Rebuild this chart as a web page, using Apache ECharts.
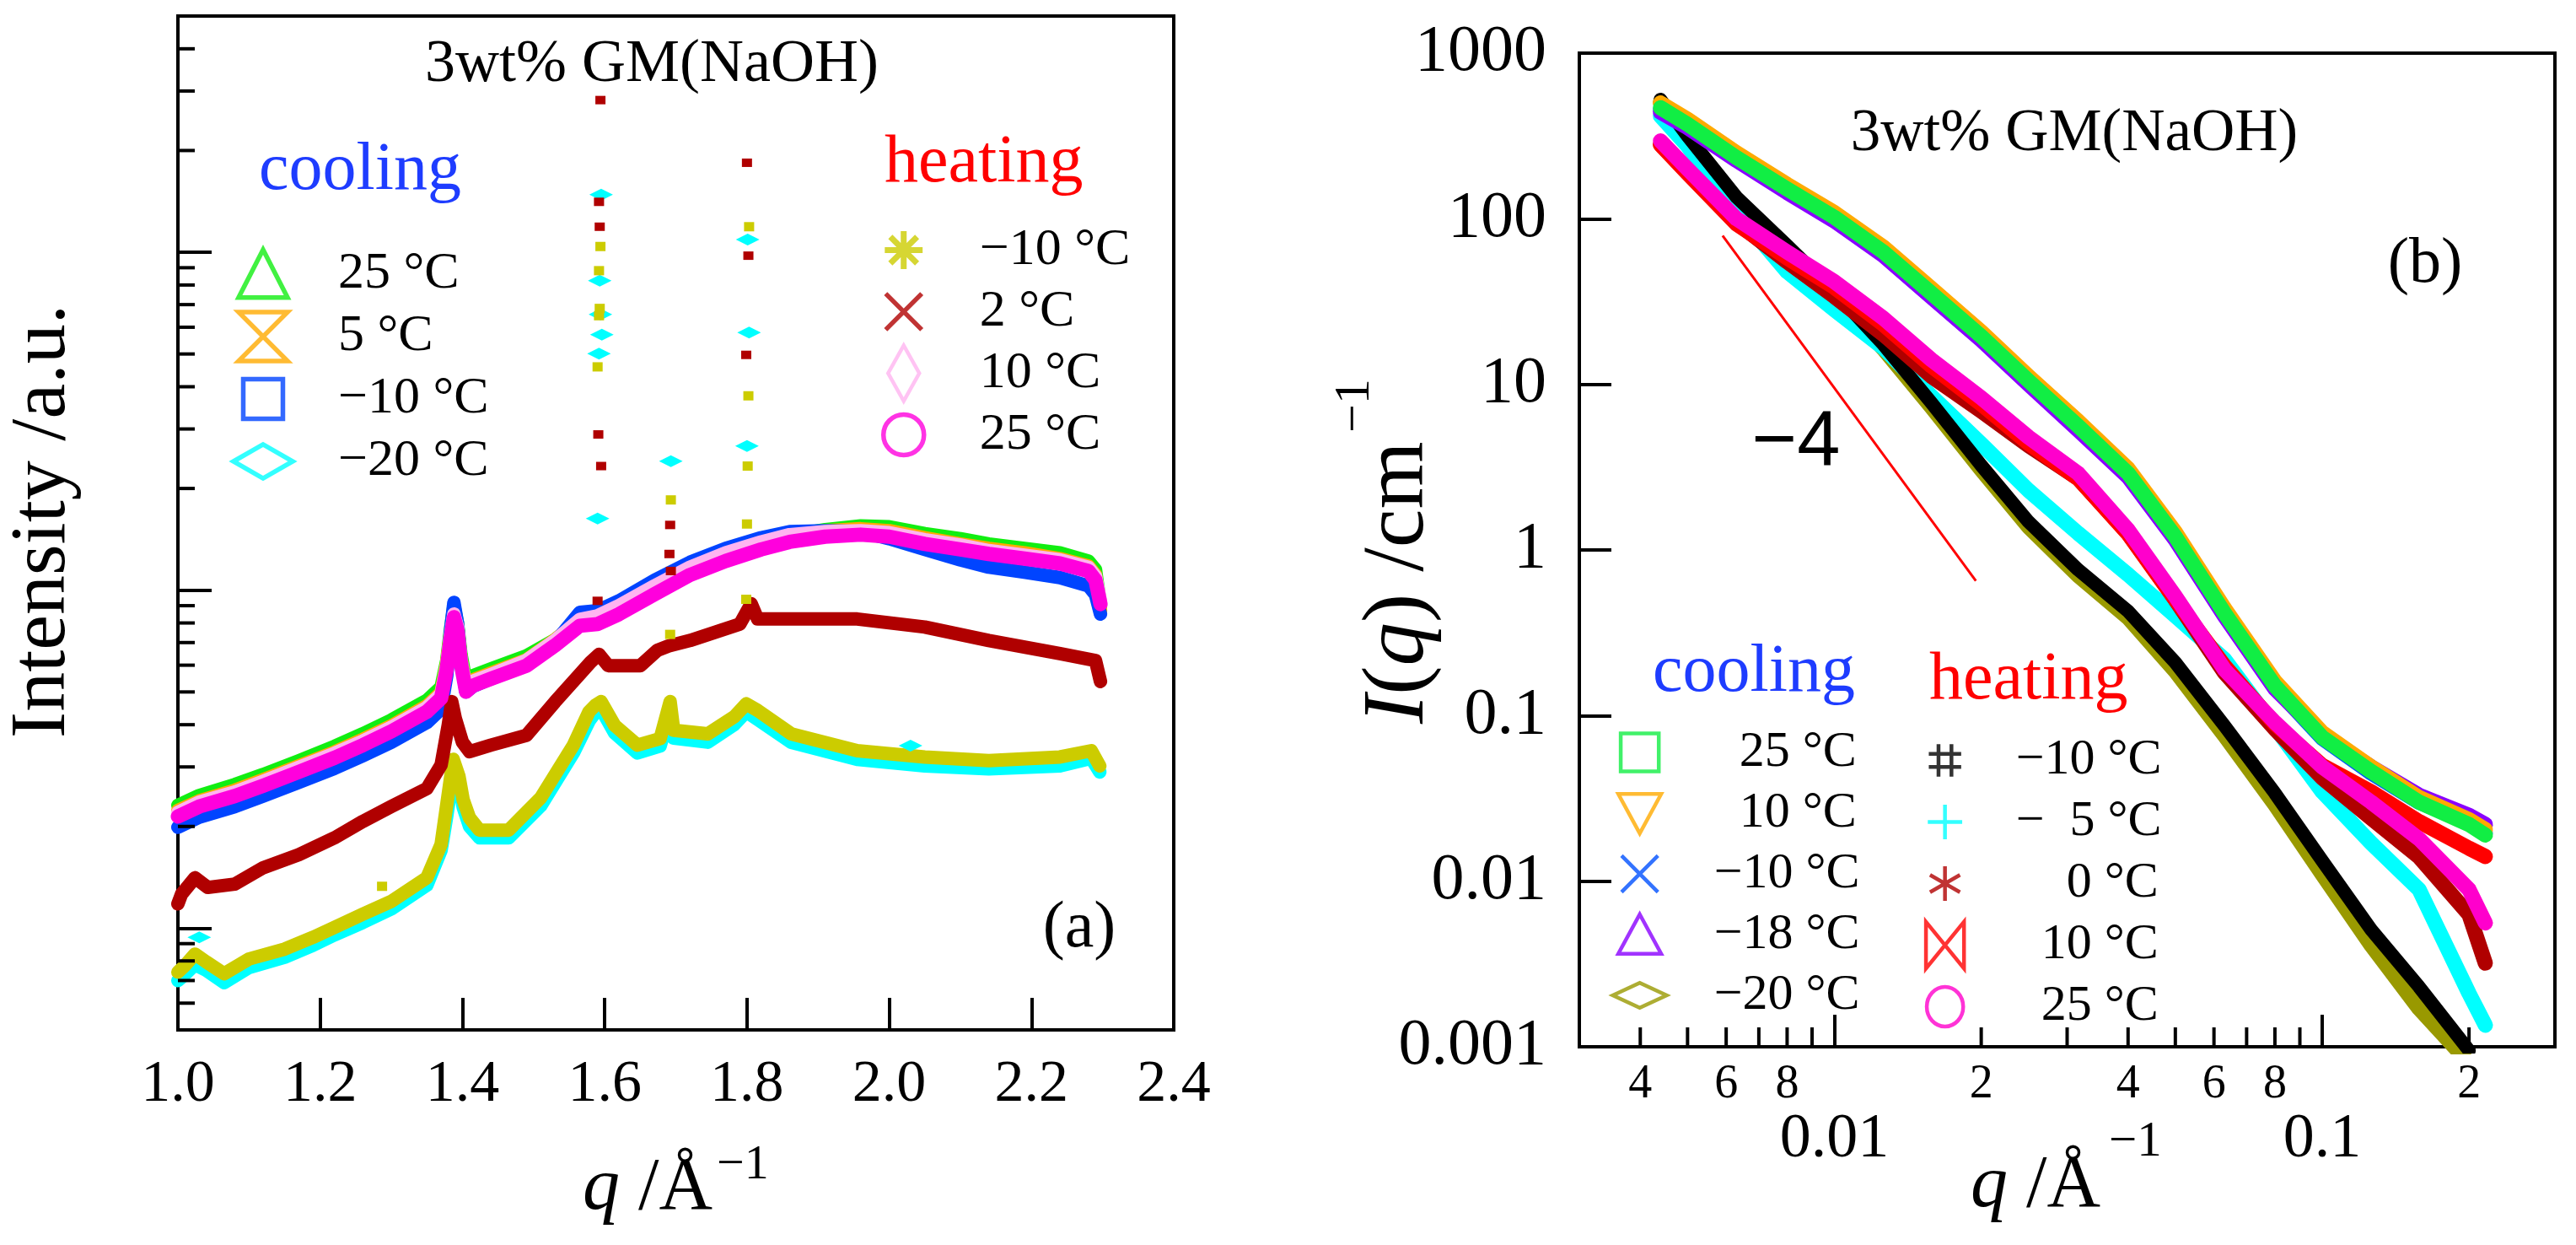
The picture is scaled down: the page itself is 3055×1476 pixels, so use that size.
<!DOCTYPE html>
<html>
<head>
<meta charset="utf-8">
<script src="https://cdn.jsdelivr.net/npm/echarts@6/dist/echarts.min.js"></script>
<style>
html,body{margin:0;padding:0;background:#fff}
#chart{width:3055px;height:1476px}
</style>
</head>
<body>
<div id="chart"></div>
<script>
const SERIF = 'Liberation Serif';

// ---------- panel (a): WAXS, linear q, log intensity ----------
const qUpperA = [1.00,1.03,1.08,1.12,1.17,1.22,1.26,1.30,1.35,1.37,1.378,1.383,1.388,1.393,1.398,1.405,1.415,1.44,1.49,1.53,1.565,1.59,1.62,1.67,1.72,1.77,1.82,1.86,1.91,1.96,2.00,2.05,2.10,2.14,2.19,2.24,2.28,2.29,2.297];
const greenA   = [0.231,0.247,0.266,0.285,0.313,0.345,0.376,0.413,0.472,0.517,0.62,0.76,0.90,0.80,0.645,0.536,0.559,0.585,0.640,0.713,0.816,0.826,0.883,1.01,1.15,1.27,1.37,1.45,1.51,1.55,1.54,1.47,1.42,1.37,1.33,1.29,1.22,1.15,0.90];
const orangeA  = [0.223,0.238,0.256,0.275,0.302,0.332,0.362,0.397,0.455,0.498,0.61,0.74,0.88,0.79,0.627,0.521,0.543,0.569,0.622,0.713,0.816,0.826,0.883,1.01,1.15,1.27,1.37,1.45,1.50,1.52,1.50,1.43,1.37,1.33,1.29,1.24,1.18,1.11,0.87];
const blueA    = [0.199,0.213,0.229,0.246,0.270,0.297,0.324,0.355,0.406,0.445,0.56,0.75,0.92,0.80,0.62,0.50,0.52,0.547,0.60,0.70,0.86,0.87,0.93,1.07,1.21,1.33,1.43,1.49,1.50,1.49,1.42,1.32,1.23,1.17,1.13,1.09,1.03,0.97,0.85];
const pinkA    = [0.220,0.236,0.253,0.272,0.299,0.329,0.358,0.393,0.450,0.493,0.60,0.73,0.85,0.78,0.62,0.516,0.538,0.563,0.62,0.71,0.82,0.84,0.90,1.03,1.17,1.29,1.39,1.46,1.49,1.50,1.48,1.41,1.36,1.31,1.27,1.23,1.17,1.10,0.93];
const magentaA = [0.214,0.229,0.246,0.264,0.290,0.319,0.348,0.382,0.437,0.479,0.585,0.708,0.832,0.759,0.603,0.501,0.522,0.547,0.598,0.686,0.785,0.794,0.849,0.973,1.11,1.22,1.32,1.39,1.44,1.46,1.44,1.37,1.32,1.28,1.24,1.20,1.14,1.07,0.91];

const qRedA = [1.00,1.005,1.024,1.042,1.08,1.12,1.17,1.22,1.26,1.30,1.35,1.37,1.38,1.385,1.39,1.40,1.41,1.44,1.49,1.53,1.58,1.592,1.605,1.65,1.674,1.69,1.72,1.79,1.806,1.815,1.86,1.955,2.05,2.14,2.24,2.29,2.297];
const redA  = [0.118,0.126,0.141,0.132,0.135,0.151,0.165,0.185,0.207,0.229,0.259,0.304,0.398,0.468,0.417,0.355,0.333,0.348,0.372,0.467,0.612,0.646,0.598,0.598,0.664,0.684,0.710,0.794,0.912,0.822,0.822,0.822,0.778,0.710,0.649,0.619,0.537];

const qLowA   = [1.00,1.01,1.024,1.04,1.065,1.10,1.15,1.19,1.22,1.26,1.30,1.35,1.37,1.378,1.387,1.395,1.401,1.41,1.424,1.465,1.51,1.556,1.578,1.587,1.595,1.614,1.646,1.678,1.692,1.697,1.745,1.782,1.799,1.815,1.862,1.955,2.05,2.14,2.24,2.284,2.296];
const yellowA = [0.0741,0.0776,0.0838,0.0794,0.0733,0.0811,0.0867,0.094,0.1005,0.110,0.120,0.141,0.177,0.232,0.316,0.282,0.240,0.212,0.195,0.195,0.243,0.348,0.437,0.457,0.468,0.398,0.348,0.364,0.468,0.385,0.376,0.422,0.461,0.441,0.376,0.335,0.321,0.313,0.321,0.335,0.302];
const cyanA   = [0.0700,0.0730,0.0780,0.0750,0.0690,0.0765,0.082,0.089,0.0955,0.104,0.114,0.134,0.170,0.215,0.290,0.270,0.228,0.200,0.185,0.185,0.230,0.330,0.410,0.435,0.445,0.378,0.330,0.346,0.440,0.365,0.355,0.400,0.437,0.415,0.355,0.316,0.302,0.296,0.302,0.318,0.290];

// isolated Bragg-peak points
const spikeRedQ  = [1.594,1.592,1.593,1.591,1.595,1.590,1.692,1.691,1.693,1.800,1.802,1.799];
const spikeRedI  = [28.2,14.1,11.9,2.89,2.33,0.93,1.56,1.28,1.14,18.4,9.77,4.97];
const spikeYelQ  = [1.594,1.592,1.593,1.592,1.590,1.693,1.692,1.803,1.802,1.801,1.800,1.799,1.287];
const spikeYelI  = [10.4,8.82,6.82,6.49,4.58,1.85,0.74,11.9,3.76,2.33,1.57,0.94,0.133];
const spikeCyanQ = [1.595,1.593,1.594,1.596,1.592,1.590,1.693,1.801,1.803,1.800,1.03,2.03];
const spikeCyanI = [14.8,8.24,6.55,5.70,5.01,1.63,2.41,10.9,5.79,2.67,0.094,0.347];

const xMinA = 1.0, xMaxA = 2.4, yMinA = 0.05, yMaxA = 50;
const yMinorA = [0.06,0.07,0.08,0.09,0.2,0.3,0.4,0.5,0.6,0.7,0.8,0.9,2,3,4,5,6,7,8,9,20,30,40];

// ---------- panel (b): SAXS, log-log ----------
const qB = [0.0044,0.005,0.0063,0.008,0.01,0.0126,0.0158,0.02,0.025,0.0316,0.04,0.05,0.063,0.08,0.1,0.126,0.158,0.2,0.216];
const greenB   = [468,372,234,151,102,63,35.5,19.5,10.5,5.6,2.9,1.2,0.417,0.151,0.074,0.046,0.030,0.022,0.019];
const orangeB  = [500,398,250,161,109,67.5,38,20.8,11.2,6.0,3.1,1.28,0.446,0.161,0.079,0.049,0.032,0.0235,0.0205];
const blueB    = [458,365,229,148,100,61.7,34.8,19.1,10.3,5.5,2.84,1.18,0.409,0.148,0.073,0.045,0.030,0.0225,0.0195];
const purpleB  = [440,355,225,144,97,60,33.7,18.5,10.0,5.3,2.76,1.15,0.40,0.145,0.076,0.049,0.033,0.025,0.022];
const oliveB   = [505,305,128,65,34,16.4,7.3,3.05,1.38,0.70,0.39,0.185,0.076,0.029,0.011,0.0041,0.0017,0.0008,'-'];
const blackB   = [525,316,135,69,36.3,17.4,7.76,3.24,1.48,0.76,0.427,0.209,0.087,0.034,0.0133,0.0051,0.0023,0.00095,'-'];
const cyanB    = [417,275,110,47.9,28.2,16.6,8.5,4.37,2.29,1.26,0.71,0.40,0.219,0.085,0.0347,0.017,0.0089,0.0021,0.00135];
const darkredB = [282,190,95,55,33.9,20,11.2,6.9,4.27,2.7,1.26,0.50,0.182,0.083,0.042,0.024,0.014,0.0063,0.0032];
const redB     = [280,188,93,58,38.5,23,12.9,7.6,4.4,2.7,1.25,0.50,0.20,0.089,0.050,0.0347,0.0229,0.0158,0.0141];
const magentaB = [295,200,100,63,41.7,25.1,14.1,8.3,4.8,2.9,1.32,0.525,0.19,0.091,0.049,0.030,0.018,0.0089,0.0056];

const slopeQ = [0.0059, 0.0195];
const slopeI = [79, 0.65];

const xMinB = 0.003, xMaxB = 0.3, yMinB = 0.001, yMaxB = 1000;
const xMinorB    = [0.004,0.005,0.006,0.007,0.008,0.009,0.02,0.03,0.04,0.05,0.06,0.07,0.08,0.09,0.2];
const xMinorLabB = ['4','','6','','8','','2','','4','','6','','8','','2'];

// ---------- legend keys (icons drawn in a fixed frame so they keep their relative size) ----------
const F = 'M-1.6,-1.25M1.6,1.25';
const keyNamesAC  = ['aC25','aC5','aC-10','aC-20'];
const keyLabelsAC = ['25 °C','5 °C','−10 °C','−20 °C'];
const keyColorsAC = ['#11ee11','#ffaa00','#0044ff','#00ffff'];
const keyIconsAC = [
  F+'M0,-1.1L1.1,1.05L-1.1,1.05Z',
  F+'M-1.1,-1.1L1.1,-1.1L-1.1,1.1L1.1,1.1Z',
  F+'M-0.89,-0.89L0.89,-0.89L0.89,0.89L-0.89,0.89Z',
  F+'M-1.33,0L0,-0.76L1.33,0L0,0.76Z'
];
const keyNamesAH  = ['aH-10','aH2','aH10','aH25'];
const keyLabelsAH = ['−10 °C','2 °C','10 °C','25 °C'];
const keyColorsAH = ['#cccc00','#b00000','#ffb4f0','#ff00dd'];
const keyIconsAH = [
  F+'M0,-0.85L0,0.85M-0.85,0L0.85,0M-0.6,-0.6L0.6,0.6M-0.6,0.6L0.6,-0.6',
  F+'M-0.81,-0.81L0.81,0.81M-0.81,0.81L0.81,-0.81',
  F+'M0,-1.25L0.7,0L0,1.25L-0.7,0Z',
  F+'M0.91,0A0.91,0.91,0,1,1,-0.91,0A0.91,0.91,0,1,1,0.91,0Z'
];
const keyNamesBC  = ['bC25','bC10','bC-10','bC-18','bC-20'];
const keyLabelsBC = ['\u200225 °C','\u200210 °C','−10 °C','−18 °C','−20 °C'];
const keyColorsBC = ['#11ee44','#ffaa00','#0050ff','#8a00ff','#999900'];
const keyIconsBC = [
  F+'M-0.94,-0.94L0.94,-0.94L0.94,0.94L-0.94,0.94Z',
  F+'M-1.06,-0.95L1.06,-0.95L0,1Z',
  F+'M-0.9,-0.9L0.9,0.9M-0.9,0.9L0.9,-0.9',
  F+'M0,-1L1.06,0.95L-1.06,0.95Z',
  F+'M-1.33,0L0,-0.62L1.33,0L0,0.62Z'
];
const keyNamesBH  = ['bH-10','bH-5','bH0','bH10','bH25'];
const keyLabelsBH = ['−10 °C','−\u20025 °C','\u2002\u20020 °C','\u200210 °C','\u200225 °C'];
const keyColorsBH = ['#000000','#00ffff','#b00000','#ff0000','#ff00cc'];
const keyIconsBH = [
  F+'M-0.32,-0.8L-0.32,0.8M0.32,-0.8L0.32,0.8M-0.8,-0.32L0.8,-0.32M-0.8,0.32L0.8,0.32',
  F+'M0,-0.85L0,0.85M-0.85,0L0.85,0',
  F+'M0,-0.85L0,0.85M-0.74,-0.43L0.74,0.43M-0.74,0.43L0.74,-0.43',
  F+'M-0.94,-1.15L0.94,1.15L0.94,-1.15L-0.94,1.15Z',
  F+'M0.9,0A0.9,0.98,0,1,1,-0.9,0A0.9,0.98,0,1,1,0.9,0Z'
];

// ---------- helpers ----------
const pairs = (xs, ys) => xs.map((x, i) => [x, ys[i]]);

function band(name, xs, ys, color, width, g, z) {
  return {
    name, type: 'line', xAxisIndex: g, yAxisIndex: g, data: pairs(xs, ys),
    symbol: 'none', showSymbol: false, silent: true, z,
    lineStyle: { color, width, cap: 'round', join: 'round' }
  };
}
function dots(name, xs, ys, color, symbol, size, g, z) {
  return {
    name, type: 'scatter', xAxisIndex: g, yAxisIndex: g, data: pairs(xs, ys),
    symbol, symbolSize: size, silent: true, z, itemStyle: { color, opacity: 1 }
  };
}
function keySeries(names, g) {
  return names.map(n => ({ name: n, type: 'scatter', xAxisIndex: g, yAxisIndex: g, data: [] }));
}
function legendBlock(names, labels, colors, icons, left, top, itemW, itemH, rowH, fontSize, bw) {
  const lab = {};
  names.forEach((n, i) => { lab[n] = labels[i]; });
  return {
    show: true, orient: 'vertical', left, top, padding: 0,
    itemWidth: itemW, itemHeight: itemH, itemGap: 0, selectedMode: false,
    textStyle: { fontFamily: SERIF, fontSize, color: '#000', lineHeight: rowH },
    formatter: n => lab[n],
    data: names.map((n, i) => ({
      name: n, icon: 'path://' + icons[i],
      itemStyle: { color: 'transparent', borderColor: colors[i], borderWidth: bw[i] }
    }))
  };
}
function decadeLabel(v) {
  const l = Math.log10(v);
  const e = Math.round(l);
  if (Math.abs(l - e) > 1e-6) return '';
  return e >= 0 ? String(Math.pow(10, e)) : Math.pow(10, e).toFixed(-e);
}
function txt(text, x, y, size, color, align, family, rotation) {
  return {
    type: 'text', x, y, rotation: rotation || 0, z: 100, silent: true,
    style: {
      text, fill: color, fontSize: size, fontFamily: family || SERIF,
      textAlign: align, textVerticalAlign: 'middle', align, verticalAlign: 'middle',
      rich: { i: { fontFamily: family || SERIF, fontStyle: 'italic', fontSize: size, fill: color, color } }
    }
  };
}

const axisBase = {
  axisLine: { show: true, onZero: false, lineStyle: { color: '#000', width: 4 } },
  splitLine: { show: false }
};

const chart = echarts.init(document.getElementById('chart'), null, { renderer: 'canvas' });

chart.setOption({
  animation: false,
  backgroundColor: '#fff',
  grid: [
    { left: 211, top: 19, width: 1181, height: 1202, show: true, borderColor: '#000', borderWidth: 4, backgroundColor: 'transparent', containLabel: false, outerBoundsMode: 'none' },
    { left: 1873, top: 63, width: 1157, height: 1178, show: true, borderColor: '#000', borderWidth: 4, backgroundColor: 'transparent', containLabel: false, outerBoundsMode: 'none' }
  ],
  xAxis: [
    Object.assign({}, axisBase, {
      gridIndex: 0, type: 'value', min: xMinA, max: xMaxA, interval: 0.2,
      axisTick: { show: true, inside: true, length: 38, lineStyle: { color: '#000', width: 4 } },
      axisLabel: { fontFamily: SERIF, fontSize: 70, color: '#000', margin: 31, formatter: v => v.toFixed(1) }
    }),
    Object.assign({}, axisBase, {
      gridIndex: 1, type: 'log', logBase: 10, min: xMinB, max: xMaxB,
      axisTick: { show: true, inside: true, length: 38, lineStyle: { color: '#000', width: 4 } },
      axisLabel: { fontFamily: SERIF, fontSize: 74, color: '#000', margin: 74, formatter: decadeLabel }
    })
  ],
  yAxis: [
    Object.assign({}, axisBase, {
      gridIndex: 0, type: 'log', logBase: 10, min: yMinA, max: yMaxA,
      axisTick: { show: true, inside: true, length: 40, lineStyle: { color: '#000', width: 4 } },
      axisLabel: { show: false }
    }),
    Object.assign({}, axisBase, {
      gridIndex: 1, type: 'log', logBase: 10, min: yMinB, max: yMaxB,
      axisTick: { show: true, inside: true, length: 38, lineStyle: { color: '#000', width: 4 } },
      axisLabel: { fontFamily: SERIF, fontSize: 78, color: '#000', margin: 39, formatter: decadeLabel }
    })
  ],
  legend: [
    legendBlock(keyNamesAC, keyLabelsAC, keyColorsAC, keyIconsAC, 267, 288, 168, 66, 74, 62, [5.5,5.5,5.5,5.5]),
    legendBlock(keyNamesAH, keyLabelsAH, keyColorsAH, keyIconsAH, 1026, 260, 170, 66, 73, 62, [7,5.5,4.5,5.5]),
    legendBlock(keyNamesBC, keyLabelsBC, keyColorsBC, keyIconsBC, 1904, 856, 166, 60, 72, 60, [4.5,4.5,4.5,4.5,4.5]),
    legendBlock(keyNamesBH, keyLabelsBH, keyColorsBH, keyIconsBH, 2266, 865, 158, 60, 73, 60, [4.5,4.5,4.5,4.5,4.5])
  ],
  graphic: [
    txt('3wt% GM(NaOH)', 773, 77, 72, '#000', 'center'),
    txt('cooling', 307, 203, 80, '#1e3cff', 'left'),
    txt('heating', 1049, 194, 80, '#ff0000', 'left'),
    txt('(a)', 1280, 1102, 78, '#000', 'center'),
    txt('3wt% GM(NaOH)', 2460, 159, 71, '#000', 'center'),
    txt('(b)', 2876, 314, 76, '#000', 'center'),
    txt('cooling', 1960, 798, 80, '#1e3cff', 'left'),
    txt('heating', 2288, 807, 80, '#ff0000', 'left'),
    txt('−4', 2130, 526, 92, '#000', 'center', 'Liberation Sans'),
    // axis titles (superscripts placed as separate text)
    txt('{i|q} /Å', 691, 1410, 88, '#000', 'left'),
    txt('−1', 850, 1382, 58, '#000', 'left'),
    txt('{i|q} /Å', 2337, 1407, 88, '#000', 'left'),
    txt('−1', 2501, 1354, 59, '#000', 'left'),
    txt('Intensity /a.u.', 51, 618, 94, '#000', 'center', SERIF, Math.PI / 2),
    txt('{i|I}({i|q}) /cm', 1660, 858, 103, '#000', 'left', SERIF, Math.PI / 2),
    txt('−1', 1607, 513, 60, '#000', 'left', SERIF, Math.PI / 2)
  ],
  series: [].concat(
    keySeries(keyNamesAC, 0), keySeries(keyNamesAH, 0),
    keySeries(keyNamesBC, 1), keySeries(keyNamesBH, 1),
    [
      // panel (a)
      band('a green', qUpperA, greenA, '#11ee11', 16, 0, 2),
      band('a orange', qUpperA, orangeA, '#ffaa00', 16, 0, 2),
      band('a blue', qUpperA, blueA, '#0044ff', 16, 0, 2),
      band('a cyan', qLowA, cyanA, '#00ffff', 16, 0, 2),
      band('a yellow', qLowA, yellowA, '#cccc00', 16, 0, 2),
      band('a darkred', qRedA, redA, '#b00000', 16, 0, 2),
      band('a pink', qUpperA, pinkA, '#ffb4f0', 16, 0, 2),
      band('a magenta', qUpperA, magentaA, '#ff00dd', 17, 0, 2),
      dots('a cyan pts', spikeCyanQ, spikeCyanI, '#00ffff', 'diamond', [28, 14], 0, 3),
      dots('a yellow pts', spikeYelQ, spikeYelI, '#cccc00', 'rect', [12, 11], 0, 3),
      dots('a red pts', spikeRedQ, spikeRedI, '#b00000', 'rect', [12, 10], 0, 3),
      {
        name: 'a minor ticks', type: 'custom', xAxisIndex: 0, yAxisIndex: 0, clip: false, silent: true, z: 10,
        data: yMinorA.map(v => [xMinA, v]),
        renderItem: (params, api) => {
          const p = api.coord([api.value(0), api.value(1)]);
          return { type: 'line', shape: { x1: p[0], y1: p[1], x2: p[0] + 20, y2: p[1] }, style: { stroke: '#000', lineWidth: 4 } };
        }
      },
      // panel (b)
      band('b olive', qB, oliveB, '#999900', 18, 1, 2),
      band('b cyan', qB, cyanB, '#00ffff', 18, 1, 2),
      band('b black', qB, blackB, '#000000', 16, 1, 2),
      band('b darkred', qB, darkredB, '#b00000', 18, 1, 2),
      band('b red', qB, redB, '#ff0000', 18, 1, 2),
      band('b magenta', qB, magentaB, '#ff00cc', 18, 1, 2),
      band('b blue', qB, blueB, '#0050ff', 18, 1, 2),
      band('b purple', qB, purpleB, '#8a00ff', 18, 1, 2),
      band('b orange', qB, orangeB, '#ffaa00', 18, 1, 2),
      band('b green', qB, greenB, '#11ee44', 18, 1, 2),
      {
        name: 'slope -4', type: 'line', xAxisIndex: 1, yAxisIndex: 1, data: pairs(slopeQ, slopeI),
        symbol: 'none', silent: true, z: 4, lineStyle: { color: '#ff0000', width: 3 }
      },
      {
        name: 'b minor ticks', type: 'custom', xAxisIndex: 1, yAxisIndex: 1, clip: false, silent: true, z: 10,
        data: xMinorB.map(v => [v, yMinB]),
        renderItem: (params, api) => {
          const p = api.coord([api.value(0), api.value(1)]);
          const lab = xMinorLabB[params.dataIndex];
          return {
            type: 'group',
            children: [
              { type: 'line', shape: { x1: p[0], y1: p[1], x2: p[0], y2: p[1] - 23 }, style: { stroke: '#000', lineWidth: 4 } },
              { type: 'text', x: p[0], y: p[1] + 45,
                style: { text: lab, fill: '#000', fontSize: 56, fontFamily: SERIF,
                         textAlign: 'center', textVerticalAlign: 'middle', align: 'center', verticalAlign: 'middle' } }
            ]
          };
        }
      }
    ]
  )
});
</script>
</body>
</html>
